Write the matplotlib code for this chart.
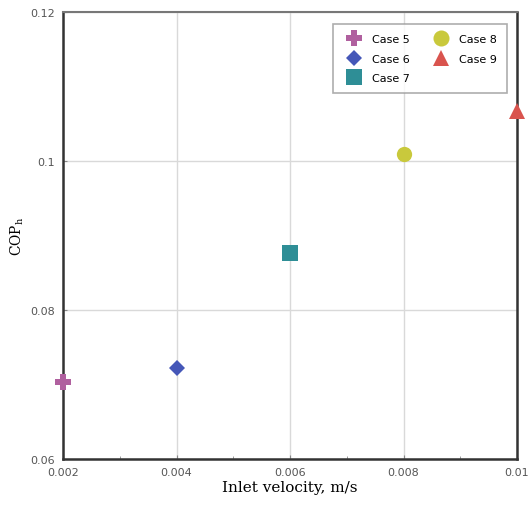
import matplotlib.pyplot as plt

cases = ['Case 5', 'Case 6', 'Case 7', 'Case 8', 'Case 9']
velocity = [0.002, 0.004, 0.006, 0.008, 0.010]
cop_h = [0.0704, 0.0722, 0.0877, 0.1009, 0.1067]

markers = ['P', 'D', 's', 'o', '^']
colors = ['#b0609f', '#4557b8', '#2e8e96', '#c9c93c', '#d9544e']
sizes = [11, 8, 11, 11, 11]

fig = plt.figure(figsize=(5.30, 5.06), dpi=100)
ax = fig.add_axes([63 / 530, 1 - 460 / 506, 454 / 530, 447 / 506])

for name, x, y, m, c, s in zip(cases, velocity, cop_h, markers, colors, sizes):
    ax.plot(x, y, linestyle='none', marker=m, color=c, markersize=s,
            markeredgewidth=0, label=name, clip_on=False, zorder=5)

ax.set_xlim(0.002, 0.010)
ax.set_ylim(0.06, 0.12)
ax.set_xticks([0.002, 0.004, 0.006, 0.008, 0.010])
ax.set_xticklabels(['0.002', '0.004', '0.006', '0.008', '0.01'])
ax.set_xticks([0.003, 0.005, 0.007, 0.009], minor=True)
ax.set_yticks([0.06, 0.08, 0.10, 0.12])
ax.set_yticklabels(['0.06', '0.08', '0.1', '0.12'])

ax.grid(True, which='major', color='#d9d9d9', linewidth=1.0)
ax.tick_params(which='both', direction='in', length=3, color='#888888',
               labelsize=8, labelcolor='#555555', pad=6)
ax.tick_params(which='minor', length=2)

for side in ['left', 'bottom', 'right']:
    ax.spines[side].set_linewidth(1.8)
    ax.spines[side].set_color('#333333')
ax.spines['top'].set_linewidth(1.5)
ax.spines['top'].set_color('#777777')

ax.set_xlabel('Inlet velocity, m/s', family='serif', fontsize=11, labelpad=2)
ax.set_ylabel('COP$_\\mathregular{h}$', family='serif', fontsize=10)
ax.yaxis.set_label_coords(-0.082, 0.5)

leg = ax.legend(ncol=2, loc='upper right', bbox_to_anchor=(0.99, 0.985),
                fontsize=8, frameon=True, fancybox=False, edgecolor='#999999',
                handletextpad=0.6, columnspacing=1.8, borderpad=0.9,
                labelspacing=0.85, markerscale=1.05)
leg.get_frame().set_linewidth(1.2)

fig.savefig('out.png', dpi=100)
